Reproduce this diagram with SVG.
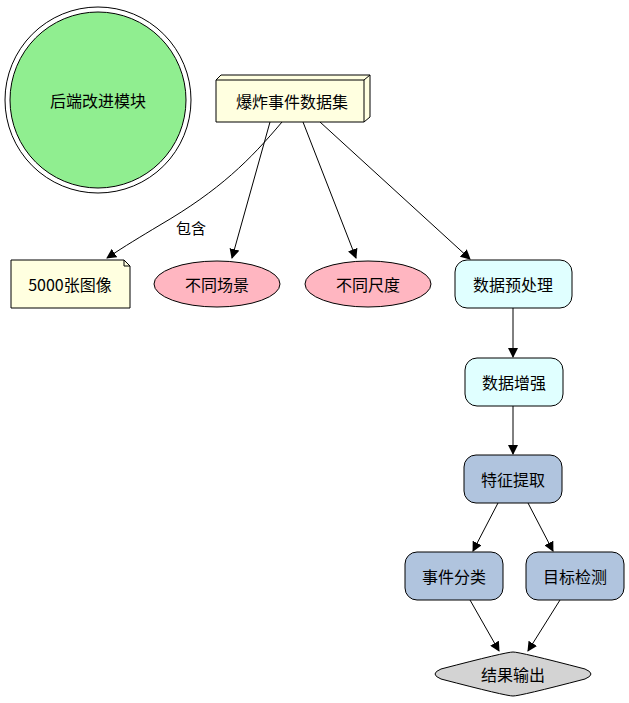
<svg xmlns="http://www.w3.org/2000/svg" width="629" height="703" viewBox="0 0 629 703">
<style>
text{font-family:"Noto Sans CJK SC","Liberation Sans",sans-serif;font-size:16px;text-anchor:middle;dominant-baseline:central;fill:#000}
.n{stroke:#000;stroke-width:1}
.e{stroke:#000;stroke-width:1;fill:none}
</style>
<defs><marker id="a" markerWidth="10" markerHeight="10" refX="9" refY="5" orient="auto" markerUnits="userSpaceOnUse" viewBox="0 0 10 10"><path d="M0,0L10,5L0,10Z" fill="#000"/></marker></defs>
<rect width="629" height="703" fill="#fff"/>
<g id="edges">
<path class="e" marker-end="url(#a)" d="M282,122C250,160 220,190 160,225C140,237 125,246 107,258"/>
<text x="191" y="227" style="font-size:15px">包含</text>
<path class="e" marker-end="url(#a)" d="M270,122L232,258"/>
<path class="e" marker-end="url(#a)" d="M303,122L356,258"/>
<path class="e" marker-end="url(#a)" d="M320,122L470,259"/>
<path class="e" marker-end="url(#a)" d="M513,308L513,357"/>
<path class="e" marker-end="url(#a)" d="M513,406L513,454"/>
<path class="e" marker-end="url(#a)" d="M498,503L473,551"/>
<path class="e" marker-end="url(#a)" d="M528,503L553,551"/>
<path class="e" marker-end="url(#a)" d="M470,600L499,651"/>
<path class="e" marker-end="url(#a)" d="M560,600L528,651"/>
</g>
<g id="backend"><circle cx="98" cy="100" r="93" fill="none" class="n"/><circle cx="98" cy="100" r="88" fill="#90ee90" class="n"/><text x="98" y="100">后端改进模块</text></g>
<g id="dataset"><path class="n" fill="#ffffe0" d="M216,122V80H364V122ZM216,80L221,75H370V117L364,122M364,80L370,75"/><text x="292" y="101">爆炸事件数据集</text></g>
<g id="images"><path class="n" fill="#ffffe0" d="M11,260H124L130,266V308H11Z"/><path class="e" d="M124,260V266H130"/><text x="70" y="284">5000张图像</text></g>
<g id="scene"><ellipse cx="217" cy="284" rx="63" ry="23" fill="#ffb6c1" class="n"/><text x="217" y="284">不同场景</text></g>
<g id="scale"><ellipse cx="368" cy="284" rx="63" ry="23" fill="#ffb6c1" class="n"/><text x="368" y="284">不同尺度</text></g>
<g id="pre"><rect x="455" y="260" width="117" height="48" rx="12" fill="#e0ffff" class="n"/><text x="513" y="284">数据预处理</text></g>
<g id="aug"><rect x="465" y="358" width="98" height="48" rx="12" fill="#e0ffff" class="n"/><text x="514" y="382">数据增强</text></g>
<g id="feat"><rect x="464" y="455" width="98" height="48" rx="12" fill="#b0c4de" class="n"/><text x="513" y="479">特征提取</text></g>
<g id="cls"><rect x="405" y="552" width="98" height="48" rx="12" fill="#b0c4de" class="n"/><text x="454" y="576">事件分类</text></g>
<g id="det"><rect x="526" y="552" width="98" height="48" rx="12" fill="#b0c4de" class="n"/><text x="575" y="576">目标检测</text></g>
<g id="out"><path class="n" fill="#d3d3d3" d="M513,652Q520,652 585,669Q597,674 585,679Q520,696 513,696Q506,696 441,679Q429,674 441,669Q506,652 513,652Z"/><text x="513" y="674">结果输出</text></g>
</svg>
